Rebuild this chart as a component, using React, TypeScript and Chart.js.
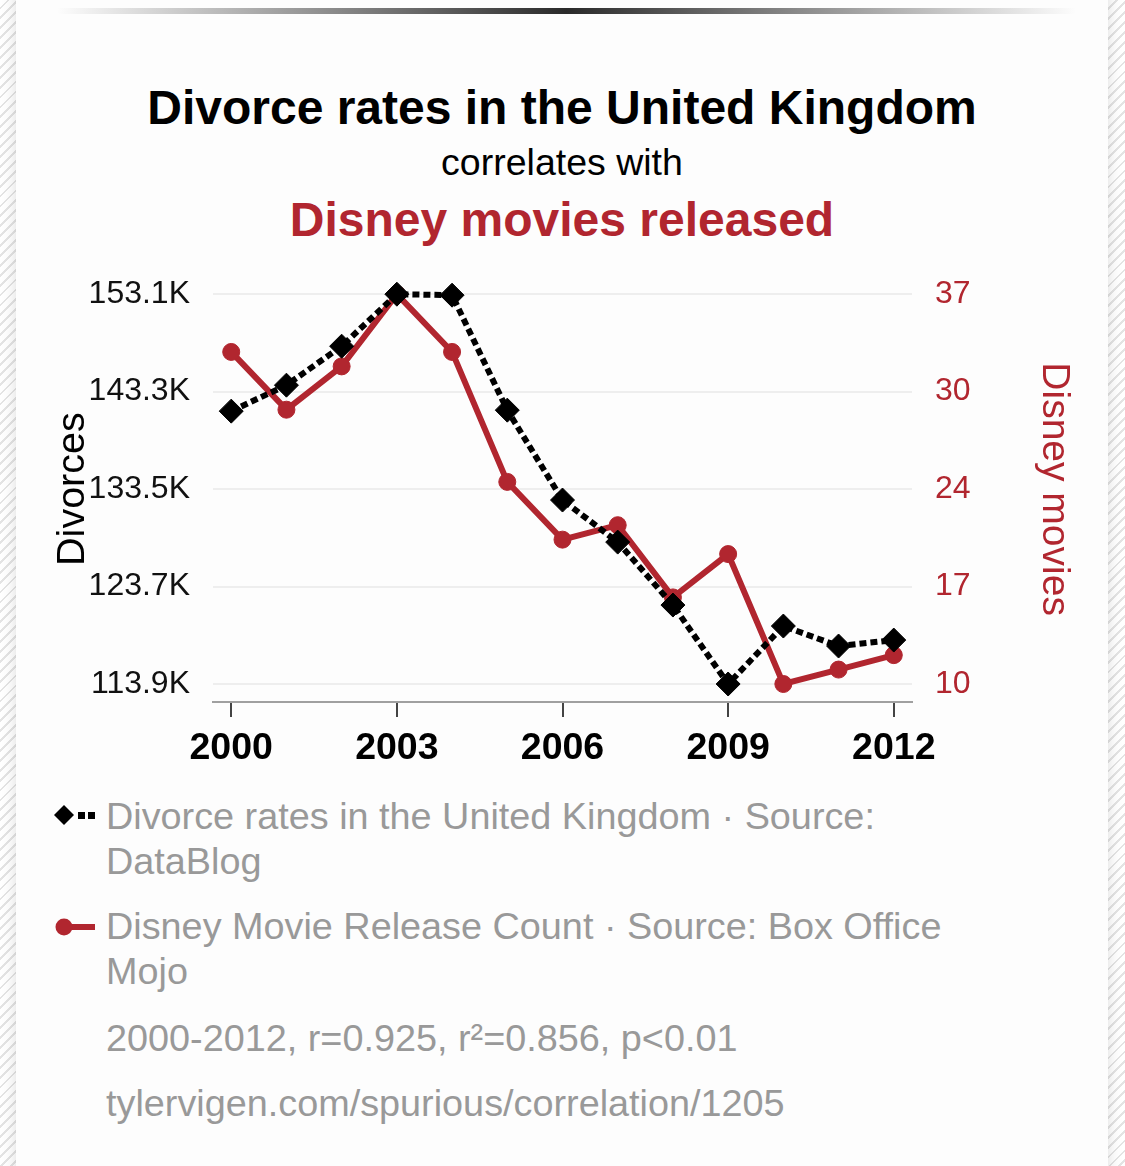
import { useEffect, useRef } from "react";
import { Chart, registerables } from "chart.js";

Chart.register(...registerables);

const years = [2000, 2001, 2002, 2003, 2004, 2005, 2006, 2007, 2008, 2009, 2010, 2011, 2012];
const divorces = [141340, 143950, 147870, 153100, 153000, 141440, 132400, 128170, 121840, 113900, 119730, 117720, 118320];
const disneyMovies = [33, 29, 32, 37, 33, 24, 20, 21, 16, 19, 10, 11, 12];
const yearTicks = [2000, 2003, 2006, 2009, 2012];
const divorceTicks = [113900, 123700, 133500, 143300, 153100];
const disneyTicks = [10, 16.75, 23.5, 30.25, 37];

const RED = "#b1262f";
const GREY = "#999999";
const FONT = "'Liberation Sans', Arial, Helvetica, sans-serif";

// leave a little room above the top tick and below the bottom tick
const padded = (ticks: number[]) => {
  const pad = ((ticks[ticks.length - 1] - ticks[0]) * 18) / 390;
  return { min: ticks[0] - pad, max: ticks[ticks.length - 1] + pad };
};

function SpuriousChart() {
  const canvasRef = useRef<HTMLCanvasElement | null>(null);

  useEffect(() => {
    if (!canvasRef.current) {
      return;
    }
    Chart.defaults.font.family = FONT;

    const left = padded(divorceTicks);
    const right = padded(disneyTicks);

    const chart = new Chart(canvasRef.current, {
      type: "line",
      data: {
        datasets: [
          {
            label: "Divorce rates in the United Kingdom",
            data: years.map((x, i) => ({ x, y: divorces[i] })),
            yAxisID: "y",
            borderColor: "#000",
            backgroundColor: "#000",
            borderWidth: 6,
            borderDash: [7, 4],
            pointStyle: "rectRot",
            pointRadius: 12,
            pointBorderWidth: 1,
            pointBackgroundColor: "#000",
            pointBorderColor: "#000",
            tension: 0,
            order: 1,
          },
          {
            label: "Disney Movie Release Count",
            data: years.map((x, i) => ({ x, y: disneyMovies[i] })),
            yAxisID: "y1",
            borderColor: RED,
            backgroundColor: RED,
            borderWidth: 6,
            pointStyle: "circle",
            pointRadius: 8.5,
            pointBorderWidth: 1,
            pointBackgroundColor: RED,
            pointBorderColor: RED,
            tension: 0,
            order: 2,
          },
        ],
      },
      options: {
        animation: false,
        responsive: true,
        maintainAspectRatio: false,
        layout: { padding: 0 },
        plugins: {
          legend: { display: false },
          tooltip: { enabled: false },
        },
        scales: {
          x: {
            type: "linear",
            min: 1999.67,
            max: 2012.33,
            afterBuildTicks: (scale) => {
              scale.ticks = yearTicks.map((value) => ({ value }));
            },
            afterFit: (scale) => {
              scale.height = 90;
            },
            ticks: {
              color: "#000",
              font: { size: 37.5, weight: "bold" },
              padding: 9,
              autoSkip: false,
              maxRotation: 0,
              callback: (value) => String(value),
            },
            grid: {
              drawOnChartArea: false,
              drawTicks: true,
              tickLength: 15,
              color: "#444",
              lineWidth: 2,
            },
            border: { display: true, color: "#a0a0a0", width: 2 },
          },
          y: {
            type: "linear",
            position: "left",
            min: left.min,
            max: left.max,
            afterBuildTicks: (scale) => {
              scale.ticks = divorceTicks.map((value) => ({ value }));
            },
            afterFit: (scale) => {
              scale.width = 183;
            },
            ticks: {
              color: "#111",
              font: { size: 32 },
              padding: 23,
              callback: (value) => (Number(value) / 1000).toFixed(1) + "K",
            },
            grid: { color: "#eeeeee", lineWidth: 2, drawTicks: false },
            border: { display: false },
            title: {
              display: true,
              text: "Divorces",
              color: "#000",
              font: { size: 39.5 },
              padding: { top: 19, bottom: 0 },
            },
          },
          y1: {
            type: "linear",
            position: "right",
            min: right.min,
            max: right.max,
            afterBuildTicks: (scale) => {
              scale.ticks = disneyTicks.map((value) => ({ value }));
            },
            afterFit: (scale) => {
              scale.width = 193;
            },
            ticks: {
              color: RED,
              font: { size: 32 },
              padding: 23,
              callback: (value) => String(Math.round(Number(value))),
            },
            grid: { display: false, drawTicks: false },
            border: { display: false },
            title: {
              display: true,
              text: "Disney movies",
              color: RED,
              font: { size: 39 },
              padding: { top: 28, bottom: 0 },
            },
          },
        },
      },
    });

    return () => {
      chart.destroy();
    };
  }, []);

  return (
    <div style={{ position: "absolute", left: 30, top: 234, width: 1075, height: 558 }}>
      <canvas ref={canvasRef} />
    </div>
  );
}

const textLine = (top: number, size: number, color: string, bold = false) => ({
  position: "absolute" as const,
  left: 16,
  width: 1092,
  top,
  textAlign: "center" as const,
  fontSize: size,
  lineHeight: `${size * 1.2}px`,
  fontWeight: bold ? 700 : 400,
  color,
  whiteSpace: "nowrap" as const,
});

const noteStyle = (top: number) => ({
  position: "absolute" as const,
  left: 106,
  top,
  fontSize: 37.8,
  lineHeight: "45px",
  color: GREY,
  whiteSpace: "nowrap" as const,
});

export default function App() {
  return (
    <div
      style={{
        position: "relative",
        width: 1125,
        height: 1166,
        overflow: "hidden",
        fontFamily: FONT,
        background: "repeating-linear-gradient(135deg, #ffffff 0 5px, #e4e4e4 5px 7px)",
      }}
    >
      <style>{`body { margin: 0; }`}</style>
      <div
        style={{
          position: "absolute",
          left: 16,
          top: -20,
          width: 1092,
          height: 1206,
          background: "#fdfdfd",
          boxShadow: "0 0 14px rgba(0,0,0,0.14)",
        }}
      />
      <div
        style={{
          position: "absolute",
          left: 57,
          top: 8,
          width: 1019,
          height: 6,
          background: "linear-gradient(to right, rgba(40,40,40,0), #2a2a2a 50%, rgba(40,40,40,0))",
        }}
      />
      <div style={textLine(108 - 28.8, 48, "#000", true)}>Divorce rates in the United Kingdom</div>
      <div style={textLine(162 - 22.5, 37.5, "#000")}>correlates with</div>
      <div style={textLine(220 - 28.8, 48, RED, true)}>Disney movies released</div>

      <SpuriousChart />

      <svg style={{ position: "absolute", left: 50, top: 800 }} width={50} height={140}>
        <polygon points="14,5 24,15 14,25 4,15" fill="#000" />
        <rect x={28} y={12} width={7} height={7} fill="#000" />
        <rect x={38} y={12} width={7} height={7} fill="#000" />
        <line x1={14} y1={127} x2={45} y2={127} stroke={RED} strokeWidth={6} />
        <circle cx={14} cy={127} r={8.5} fill={RED} />
      </svg>
      <div style={noteStyle(816 - 22.5)}>
        Divorce rates in the United Kingdom · Source:
        <br />
        DataBlog
      </div>
      <div style={noteStyle(926 - 22.5)}>
        Disney Movie Release Count · Source: Box Office
        <br />
        Mojo
      </div>
      <div style={noteStyle(1038 - 22.5)}>2000-2012, r=0.925, r²=0.856, p&lt;0.01</div>
      <div style={noteStyle(1103 - 22.5)}>tylervigen.com/spurious/correlation/1205</div>
    </div>
  );
}
